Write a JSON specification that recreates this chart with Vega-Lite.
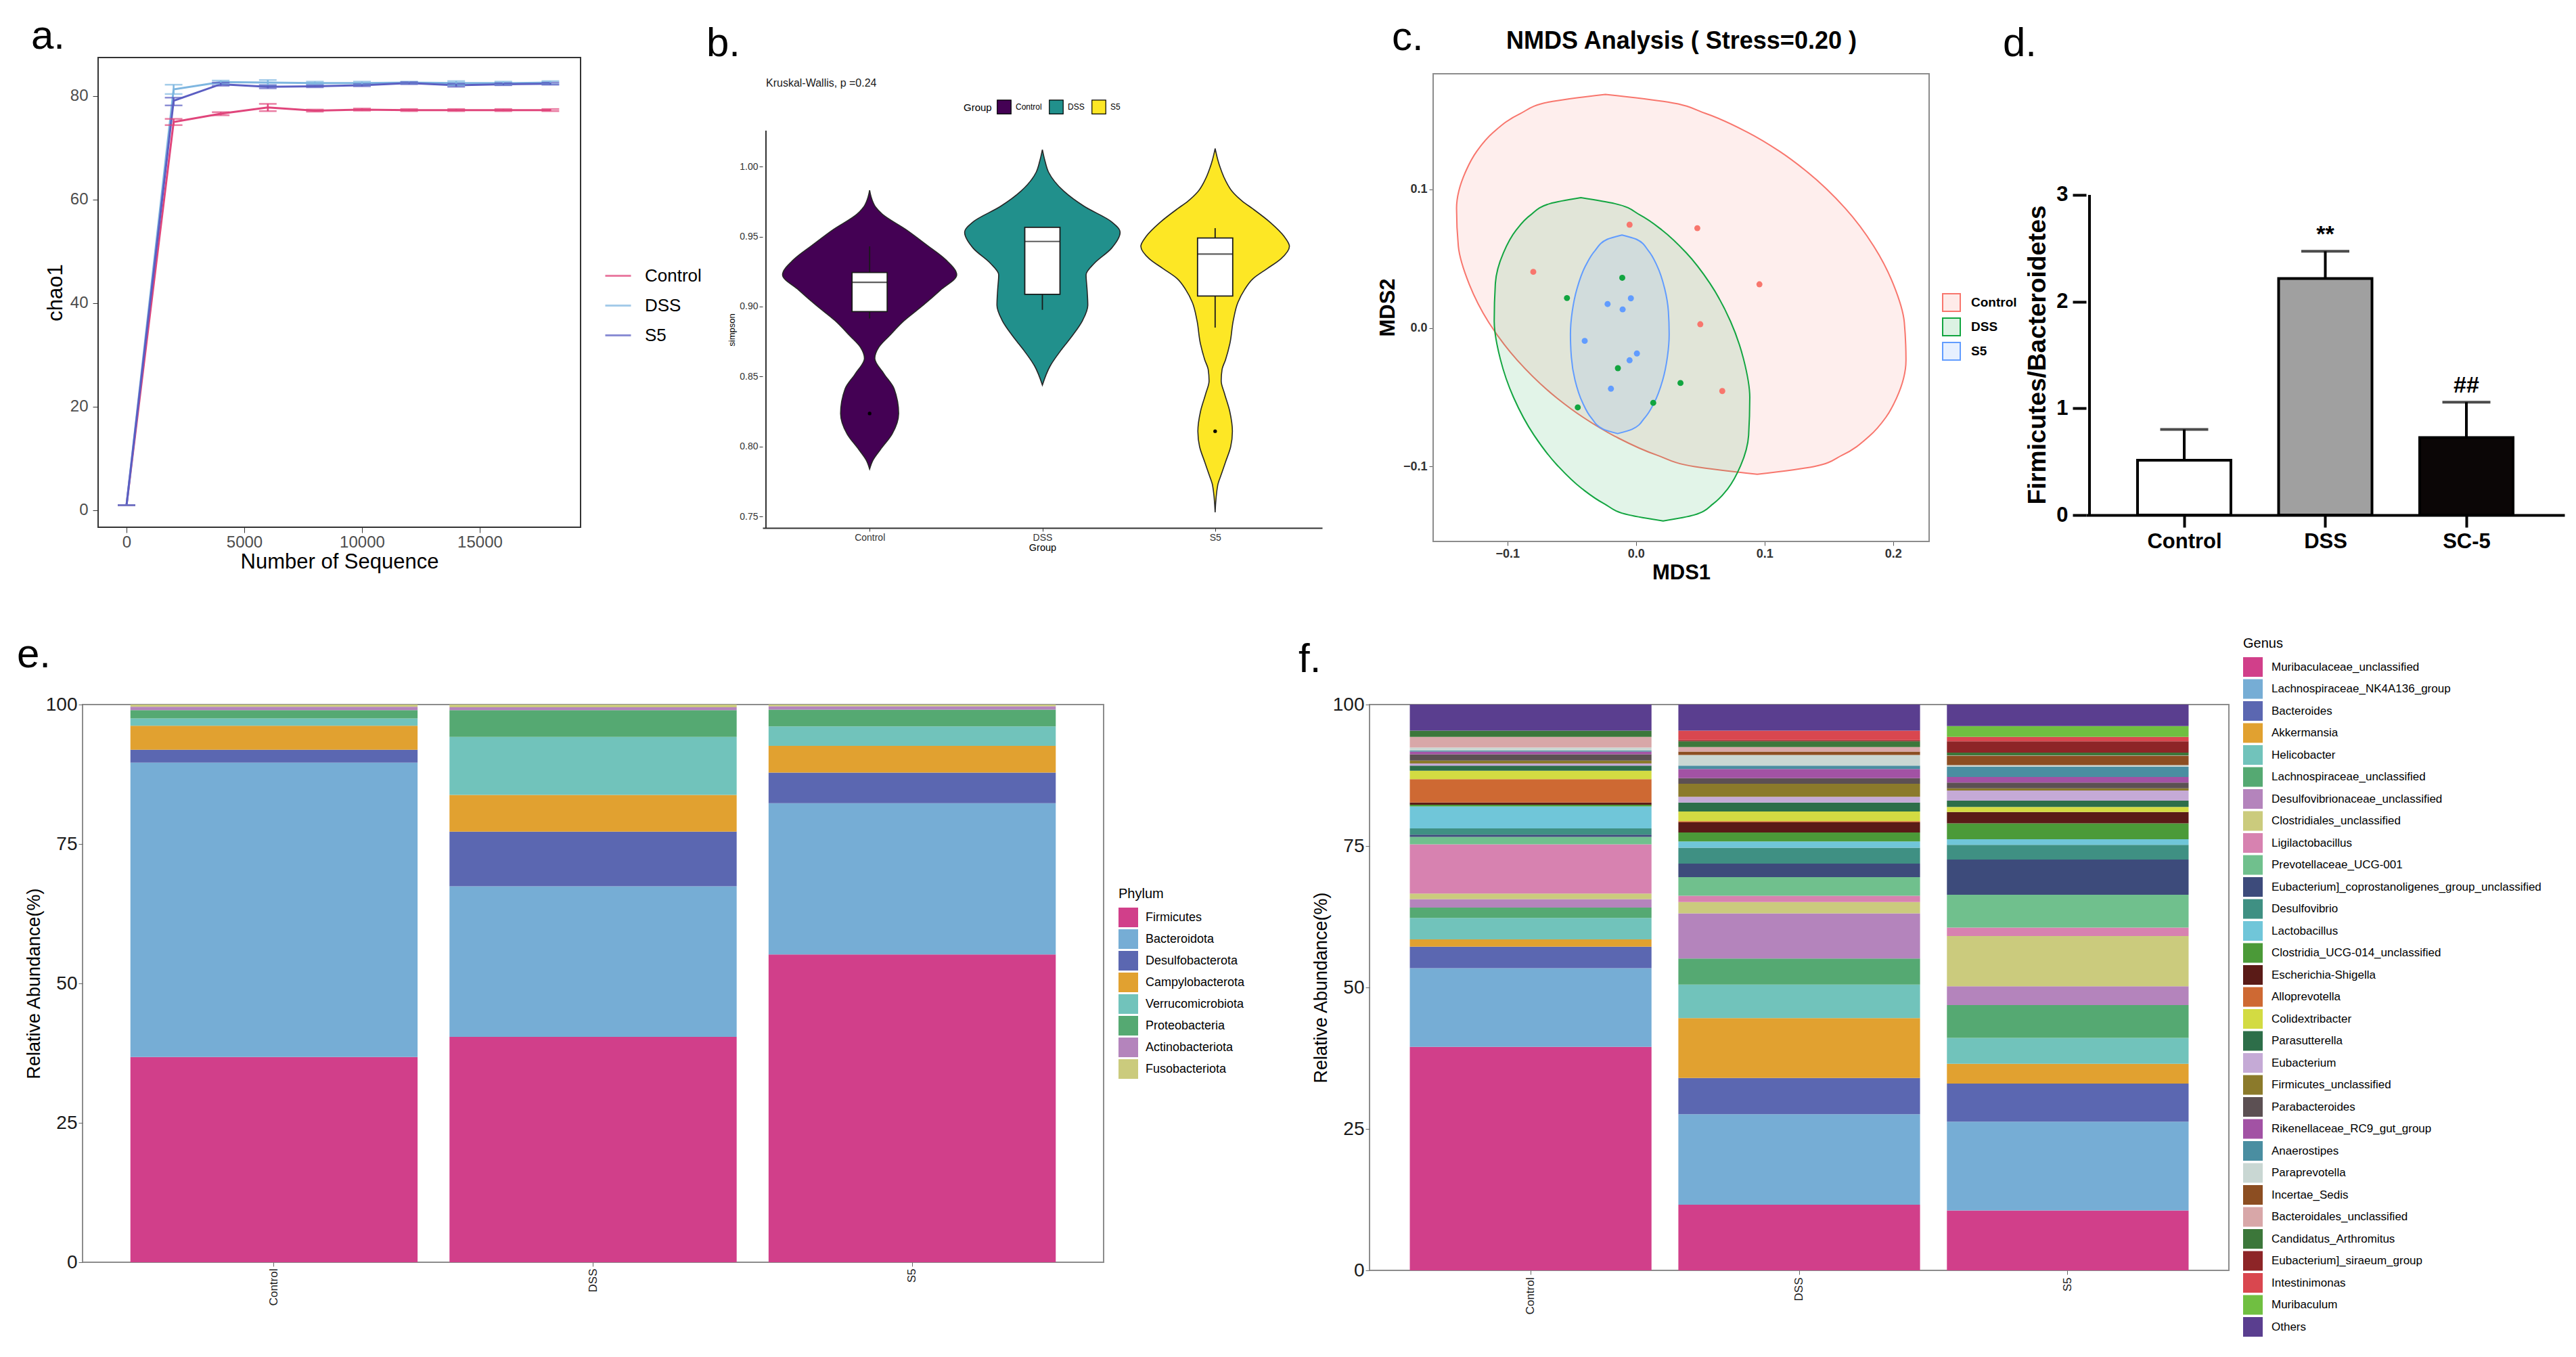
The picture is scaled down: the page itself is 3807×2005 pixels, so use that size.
{
"$schema": "https://vega.github.io/schema/vega-lite/v6.json",
"background": "white",
"padding": {"left": 24, "top": 23, "right": 4, "bottom": 4},
"spacing": 76,
"resolve": {"scale": {"color": "independent", "fill": "independent", "stroke": "independent", "x": "independent", "y": "independent"}, "legend": {"color": "independent", "fill": "independent", "stroke": "independent"}},
"config": {
  "font": "Liberation Sans",
  "view": {"stroke": null},
  "axis": {"grid": false, "labelColor": "#333333", "titleColor": "#000000", "tickColor": "#333333", "domainColor": "#333333", "titleFontWeight": "normal", "labelFlush": false, "labelOverlap": false},
  "legend": {"titleFontWeight": "normal", "labelColor": "#000000", "titleColor": "#000000", "symbolLimit": 40},
  "title": {"fontWeight": "normal", "fontSize": 60, "anchor": "start", "frame": "group", "color": "#000000"}
},
"vconcat": [
{"bounds": "flush", "spacing": 0,
 "resolve": {"scale": {"color": "independent", "fill": "independent", "stroke": "independent", "x": "independent", "y": "independent"}, "legend": {"color": "independent", "fill": "independent", "stroke": "independent"}},
 "hconcat": [
  {"width": 23, "height": 1, "data": {"values": []}, "mark": "point"},
  {
    "width": 713, "height": 694,
    "title": {"text": "a.", "dx": -99, "offset": 0},
    "view": {"stroke": "#333333", "strokeWidth": 2},
    "data": {"values": [
      {"g":"Control","n":0,"v":1,"lo":1,"hi":1},
      {"g":"Control","n":2000,"v":75.0,"lo":74.4,"hi":75.6},
      {"g":"Control","n":4000,"v":76.6,"lo":76.3,"hi":76.9},
      {"g":"Control","n":6000,"v":77.8,"lo":77.1,"hi":78.5},
      {"g":"Control","n":8000,"v":77.2,"lo":77.0,"hi":77.4},
      {"g":"Control","n":10000,"v":77.4,"lo":77.2,"hi":77.6},
      {"g":"Control","n":12000,"v":77.3,"lo":77.1,"hi":77.5},
      {"g":"Control","n":14000,"v":77.3,"lo":77.1,"hi":77.5},
      {"g":"Control","n":16000,"v":77.3,"lo":77.1,"hi":77.5},
      {"g":"Control","n":18000,"v":77.3,"lo":77.1,"hi":77.5},
      {"g":"DSS","n":0,"v":1,"lo":1,"hi":1},
      {"g":"DSS","n":2000,"v":81.3,"lo":80.4,"hi":82.2},
      {"g":"DSS","n":4000,"v":82.7,"lo":82.4,"hi":83.0},
      {"g":"DSS","n":6000,"v":82.6,"lo":82.1,"hi":83.1},
      {"g":"DSS","n":8000,"v":82.5,"lo":82.2,"hi":82.8},
      {"g":"DSS","n":10000,"v":82.5,"lo":82.2,"hi":82.8},
      {"g":"DSS","n":12000,"v":82.6,"lo":82.4,"hi":82.8},
      {"g":"DSS","n":14000,"v":82.5,"lo":82.1,"hi":82.9},
      {"g":"DSS","n":16000,"v":82.5,"lo":82.2,"hi":82.8},
      {"g":"DSS","n":18000,"v":82.6,"lo":82.3,"hi":82.9},
      {"g":"S5","n":0,"v":1,"lo":1,"hi":1},
      {"g":"S5","n":2000,"v":79.1,"lo":78.2,"hi":79.7},
      {"g":"S5","n":4000,"v":82.3,"lo":82.0,"hi":82.6},
      {"g":"S5","n":6000,"v":81.8,"lo":81.5,"hi":82.1},
      {"g":"S5","n":8000,"v":81.9,"lo":81.7,"hi":82.1},
      {"g":"S5","n":10000,"v":82.1,"lo":81.9,"hi":82.3},
      {"g":"S5","n":12000,"v":82.5,"lo":82.3,"hi":82.7},
      {"g":"S5","n":14000,"v":82.1,"lo":81.8,"hi":82.4},
      {"g":"S5","n":16000,"v":82.3,"lo":82.1,"hi":82.5},
      {"g":"S5","n":18000,"v":82.4,"lo":82.2,"hi":82.6}
    ]},
    "layer": [
      {"mark": {"type": "line", "strokeWidth": 3},
       "encoding": {
         "x": {"field": "n", "type": "quantitative", "title": "Number of Sequence",
               "scale": {"domain": [-1207, 19282], "nice": false, "zero": false},
               "axis": {"values": [0, 5000, 10000, 15000], "format": "d", "labelFontSize": 24, "titleFontSize": 31, "tickSize": 8, "labelPadding": 2, "titlePadding": 2, "domain": false, "labelColor": "#4d4d4d"}},
         "y": {"field": "v", "type": "quantitative", "title": "chao1",
               "scale": {"domain": [-3.27, 87.45], "nice": false, "zero": false},
               "axis": {"values": [0, 20, 40, 60, 80], "labelFontSize": 24, "titleFontSize": 31, "tickSize": 8, "labelPadding": 7, "titlePadding": 5, "domain": false, "labelColor": "#4d4d4d"}},
         "color": {"field": "g", "type": "nominal",
               "scale": {"domain": ["Control", "DSS", "S5"], "range": ["#E0457B", "#7EB6E0", "#5B5EC2"]},
               "legend": {"orient": "none", "legendX": 748, "legendY": 302, "title": null, "symbolType": "stroke", "symbolStrokeWidth": 3, "symbolSize": 1444, "labelFontSize": 26, "labelOffset": 19, "rowPadding": 10}}
       }},
      {"mark": {"type": "errorbar", "ticks": {"size": 26}, "thickness": 2.5},
       "encoding": {
         "x": {"field": "n", "type": "quantitative", "title": "Number of Sequence"},
         "y": {"field": "lo", "type": "quantitative", "title": "chao1"},
         "y2": {"field": "hi"},
         "color": {"field": "g", "type": "nominal"}
       }}
    ]
  },
  {"width": 269, "height": 1, "data": {"values": []}, "mark": "point"},
  {
    "width": 827, "height": 695,
    "title": {"text": "b.", "dx": -83, "offset": -11},
    "layer": [
      {"data": {"values": [
        {"grp":"Control","s":0.983,"lo":1,"hi":1},
        {"grp":"Control","s":0.977,"lo":0.988,"hi":1.012},
        {"grp":"Control","s":0.971,"lo":0.965,"hi":1.035},
        {"grp":"Control","s":0.966,"lo":0.927,"hi":1.073},
        {"grp":"Control","s":0.955,"lo":0.79,"hi":1.21},
        {"grp":"Control","s":0.944,"lo":0.67,"hi":1.33},
        {"grp":"Control","s":0.9335,"lo":0.56,"hi":1.44},
        {"grp":"Control","s":0.9227,"lo":0.496,"hi":1.504},
        {"grp":"Control","s":0.9118,"lo":0.59,"hi":1.41},
        {"grp":"Control","s":0.901,"lo":0.69,"hi":1.31},
        {"grp":"Control","s":0.89,"lo":0.8,"hi":1.2},
        {"grp":"Control","s":0.879,"lo":0.887,"hi":1.113},
        {"grp":"Control","s":0.871,"lo":0.947,"hi":1.053},
        {"grp":"Control","s":0.863,"lo":0.97,"hi":1.03},
        {"grp":"Control","s":0.852,"lo":0.917,"hi":1.083},
        {"grp":"Control","s":0.8413,"lo":0.858,"hi":1.142},
        {"grp":"Control","s":0.8237,"lo":0.832,"hi":1.168},
        {"grp":"Control","s":0.809,"lo":0.87,"hi":1.13},
        {"grp":"Control","s":0.798,"lo":0.937,"hi":1.063},
        {"grp":"Control","s":0.79,"lo":0.982,"hi":1.018},
        {"grp":"Control","s":0.784,"lo":1,"hi":1},
        {"grp":"DSS","s":1.012,"lo":2,"hi":2},
        {"grp":"DSS","s":1.004,"lo":1.985,"hi":2.015},
        {"grp":"DSS","s":0.9959,"lo":1.964,"hi":2.036},
        {"grp":"DSS","s":0.9823,"lo":1.875,"hi":2.125},
        {"grp":"DSS","s":0.9715,"lo":1.757,"hi":2.243},
        {"grp":"DSS","s":0.9606,"lo":1.6,"hi":2.4},
        {"grp":"DSS","s":0.953,"lo":1.55,"hi":2.45},
        {"grp":"DSS","s":0.9416,"lo":1.6,"hi":2.4},
        {"grp":"DSS","s":0.9308,"lo":1.7,"hi":2.3},
        {"grp":"DSS","s":0.9227,"lo":1.747,"hi":2.253},
        {"grp":"DSS","s":0.9118,"lo":1.741,"hi":2.259},
        {"grp":"DSS","s":0.901,"lo":1.737,"hi":2.263},
        {"grp":"DSS","s":0.8902,"lo":1.767,"hi":2.233},
        {"grp":"DSS","s":0.8793,"lo":1.826,"hi":2.174},
        {"grp":"DSS","s":0.8684,"lo":1.895,"hi":2.105},
        {"grp":"DSS","s":0.8576,"lo":1.955,"hi":2.045},
        {"grp":"DSS","s":0.844,"lo":2,"hi":2},
        {"grp":"S5","s":1.0128,"lo":3,"hi":3},
        {"grp":"S5","s":1.005,"lo":2.985,"hi":3.015},
        {"grp":"S5","s":0.999,"lo":2.97,"hi":3.03},
        {"grp":"S5","s":0.99,"lo":2.94,"hi":3.06},
        {"grp":"S5","s":0.982,"lo":2.9,"hi":3.1},
        {"grp":"S5","s":0.975,"lo":2.84,"hi":3.16},
        {"grp":"S5","s":0.97,"lo":2.784,"hi":3.216},
        {"grp":"S5","s":0.96,"lo":2.68,"hi":3.32},
        {"grp":"S5","s":0.95,"lo":2.6,"hi":3.4},
        {"grp":"S5","s":0.943,"lo":2.57,"hi":3.43},
        {"grp":"S5","s":0.934,"lo":2.62,"hi":3.38},
        {"grp":"S5","s":0.927,"lo":2.7,"hi":3.3},
        {"grp":"S5","s":0.92,"lo":2.78,"hi":3.22},
        {"grp":"S5","s":0.912,"lo":2.83,"hi":3.17},
        {"grp":"S5","s":0.903,"lo":2.868,"hi":3.132},
        {"grp":"S5","s":0.89,"lo":2.895,"hi":3.105},
        {"grp":"S5","s":0.874,"lo":2.914,"hi":3.086},
        {"grp":"S5","s":0.862,"lo":2.94,"hi":3.06},
        {"grp":"S5","s":0.855,"lo":2.96,"hi":3.04},
        {"grp":"S5","s":0.847,"lo":2.965,"hi":3.035},
        {"grp":"S5","s":0.838,"lo":2.946,"hi":3.054},
        {"grp":"S5","s":0.825,"lo":2.915,"hi":3.085},
        {"grp":"S5","s":0.811,"lo":2.9,"hi":3.1},
        {"grp":"S5","s":0.8,"lo":2.91,"hi":3.09},
        {"grp":"S5","s":0.789,"lo":2.94,"hi":3.06},
        {"grp":"S5","s":0.78,"lo":2.965,"hi":3.035},
        {"grp":"S5","s":0.7725,"lo":2.985,"hi":3.015},
        {"grp":"S5","s":0.7531,"lo":3,"hi":3}
       ]},
       "mark": {"type": "area", "orient": "horizontal", "interpolate": "monotone", "stroke": "#262626", "strokeWidth": 1.6, "opacity": 1},
       "encoding": {
         "y": {"field": "s", "type": "quantitative", "title": "simpson",
               "scale": {"domain": [0.742, 1.0778], "nice": false, "zero": false},
               "axis": {"values": [0.75, 0.8, 0.85, 0.9, 0.95, 1.0], "format": ".2f", "labelFontSize": 14, "titleFontSize": 13, "tickSize": 5, "labelPadding": 2, "titlePadding": 4, "domain": false, "labelColor": "#333333", "titleY": 402}},
         "x": {"field": "lo", "type": "quantitative", "title": "Group",
               "scale": {"domain": [0.4, 3.6], "nice": false, "zero": false},
               "axis": {"values": [1, 2, 3], "labelExpr": "datum.value == 1 ? 'Control' : datum.value == 2 ? 'DSS' : 'S5'", "labelFontSize": 14, "titleFontSize": 14.5, "tickSize": 5, "labelPadding": 2, "titlePadding": 1, "domainWidth": 2}},
         "x2": {"field": "hi"},
         "color": {"field": "grp", "type": "nominal",
               "scale": {"domain": ["Control", "DSS", "S5"], "range": ["#440154", "#21908C", "#FDE725"]},
               "legend": {"orient": "none", "legendX": 297, "legendY": 62, "direction": "horizontal", "title": "Group", "titleOrient": "left", "titleFontSize": 15, "titlePadding": 7, "labelFontSize": 12, "symbolType": "square", "symbolSize": 420, "symbolStrokeColor": "#000000", "symbolStrokeWidth": 1.2, "symbolOpacity": 1, "labelOffset": 6, "columnPadding": 8}}
       }},
      {"data": {"values": [{}]},
       "mark": {"type": "rule", "color": "#333333", "strokeWidth": 2},
       "encoding": {
         "x": {"datum": 0.4, "type": "quantitative", "title": "Group"},
         "y": {"datum": 0.742, "type": "quantitative", "title": "simpson"},
         "y2": {"datum": 1.0256}
       }},
      {"data": {"values": [
        {"grp":"Control","g":1,"wlo":0.8915,"whi":0.943},
        {"grp":"DSS","g":2,"wlo":0.8977,"whi":0.9566},
        {"grp":"S5","g":3,"wlo":0.885,"whi":0.956}
       ]},
       "mark": {"type": "rule", "color": "#1a1a1a", "strokeWidth": 1.8},
       "encoding": {
         "x": {"field": "g", "type": "quantitative", "title": "Group"},
         "y": {"field": "wlo", "type": "quantitative", "title": "simpson"},
         "y2": {"field": "whi"}
       }},
      {"data": {"values": [
        {"grp":"Control","g":1,"q1":0.8964,"q3":0.9243},
        {"grp":"DSS","g":2,"q1":0.9088,"q3":0.9566},
        {"grp":"S5","g":3,"q1":0.9075,"q3":0.949}
       ]},
       "mark": {"type": "bar", "orient": "vertical", "size": 52, "fill": "#ffffff", "stroke": "#1a1a1a", "strokeWidth": 1.8},
       "encoding": {
         "x": {"field": "g", "type": "quantitative", "title": "Group"},
         "y": {"field": "q1", "type": "quantitative", "title": "simpson"},
         "y2": {"field": "q3"}
       }},
      {"data": {"values": [
        {"grp":"Control","g":1,"med":0.9173},
        {"grp":"DSS","g":2,"med":0.9465},
        {"grp":"S5","g":3,"med":0.9375}
       ]},
       "mark": {"type": "tick", "orient": "horizontal", "size": 52, "thickness": 2.2, "color": "#1a1a1a"},
       "encoding": {
         "x": {"field": "g", "type": "quantitative", "title": "Group"},
         "y": {"field": "med", "type": "quantitative", "title": "simpson"}
       }},
      {"data": {"values": [
        {"grp":"Control","g":1,"s":0.8237},
        {"grp":"S5","g":3,"s":0.811}
       ]},
       "mark": {"type": "point", "filled": true, "size": 28, "color": "#000000", "opacity": 1},
       "encoding": {
         "x": {"field": "g", "type": "quantitative", "title": "Group"},
         "y": {"field": "s", "type": "quantitative", "title": "simpson"}
       }},
      {"data": {"values": [{"label": "Kruskal-Wallis, p =0.24"}]},
       "mark": {"type": "text", "align": "left", "baseline": "middle", "fontSize": 16, "color": "#1a1a1a"},
       "encoding": {
         "x": {"datum": 0.4, "type": "quantitative", "title": "Group"},
         "y": {"datum": 1.0594, "type": "quantitative", "title": "simpson"},
         "text": {"field": "label", "type": "nominal"}
       }}
    ]
  },
  {"width": 164, "height": 1, "data": {"values": []}, "mark": "point"},
  {
    "width": 733, "height": 715,
    "title": {"text": "c.", "dx": -61, "offset": -45},
    "resolve": {"axis": {"x": "independent"}},
    "layer": [
      {"data": {"values": [
        {"grp":"Control","m2":0.1685,"l":-0.0238,"r":-0.0238},
        {"grp":"Control","m2":0.163,"l":-0.0677,"r":0.0247},
        {"grp":"Control","m2":0.1548,"l":-0.0898,"r":0.054},
        {"grp":"Control","m2":0.1411,"l":-0.111,"r":0.0869},
        {"grp":"Control","m2":0.1274,"l":-0.1239,"r":0.1117},
        {"grp":"Control","m2":0.1137,"l":-0.1321,"r":0.1317},
        {"grp":"Control","m2":0.0863,"l":-0.1396,"r":0.1628},
        {"grp":"Control","m2":0.0589,"l":-0.1382,"r":0.185},
        {"grp":"Control","m2":0.0315,"l":-0.1297,"r":0.2002},
        {"grp":"Control","m2":0.0041,"l":-0.1146,"r":0.2087},
        {"grp":"Control","m2":-0.0233,"l":-0.0923,"r":0.21},
        {"grp":"Control","m2":-0.0507,"l":-0.0613,"r":0.2026},
        {"grp":"Control","m2":-0.0644,"l":-0.0412,"r":0.1944},
        {"grp":"Control","m2":-0.0781,"l":-0.0165,"r":0.1814},
        {"grp":"Control","m2":-0.0918,"l":0.0165,"r":0.1603},
        {"grp":"Control","m2":-0.1,"l":0.0458,"r":0.1381},
        {"grp":"Control","m2":-0.1055,"l":0.0943,"r":0.0943},
        {"grp":"DSS","m2":0.094,"l":-0.0429,"r":-0.0429},
        {"grp":"DSS","m2":0.0897,"l":-0.067,"r":-0.0164},
        {"grp":"DSS","m2":0.0815,"l":-0.082,"r":0.0031},
        {"grp":"DSS","m2":0.0705,"l":-0.0933,"r":0.0204},
        {"grp":"DSS","m2":0.0541,"l":-0.1032,"r":0.0392},
        {"grp":"DSS","m2":0.0322,"l":-0.1094,"r":0.0575},
        {"grp":"DSS","m2":0.0048,"l":-0.1103,"r":0.0735},
        {"grp":"DSS","m2":-0.0226,"l":-0.1055,"r":0.0837},
        {"grp":"DSS","m2":-0.05,"l":-0.0953,"r":0.0885},
        {"grp":"DSS","m2":-0.0774,"l":-0.0793,"r":0.0876},
        {"grp":"DSS","m2":-0.0993,"l":-0.061,"r":0.0814},
        {"grp":"DSS","m2":-0.1158,"l":-0.0422,"r":0.0715},
        {"grp":"DSS","m2":-0.1267,"l":-0.0249,"r":0.0602},
        {"grp":"DSS","m2":-0.1349,"l":-0.0054,"r":0.0452},
        {"grp":"DSS","m2":-0.1392,"l":0.0211,"r":0.0211},
        {"grp":"S5","m2":0.0671,"l":-0.0109,"r":-0.0109},
        {"grp":"S5","m2":0.064,"l":-0.0223,"r":0.0003},
        {"grp":"S5","m2":0.0558,"l":-0.0319,"r":0.0096},
        {"grp":"S5","m2":0.0448,"l":-0.0393,"r":0.0164},
        {"grp":"S5","m2":0.0284,"l":-0.0459,"r":0.0223},
        {"grp":"S5","m2":0.0119,"l":-0.0496,"r":0.0252},
        {"grp":"S5","m2":-0.0045,"l":-0.051,"r":0.0258},
        {"grp":"S5","m2":-0.021,"l":-0.0503,"r":0.0244},
        {"grp":"S5","m2":-0.0374,"l":-0.0475,"r":0.0208},
        {"grp":"S5","m2":-0.0538,"l":-0.0416,"r":0.0142},
        {"grp":"S5","m2":-0.0648,"l":-0.0348,"r":0.0068},
        {"grp":"S5","m2":-0.073,"l":-0.0255,"r":-0.0029},
        {"grp":"S5","m2":-0.0762,"l":-0.0143,"r":-0.0143}
       ]},
       "mark": {"type": "area", "orient": "horizontal", "interpolate": "monotone", "fillOpacity": 0.12, "strokeOpacity": 1, "strokeWidth": 2},
       "encoding": {
         "y": {"field": "m2", "type": "quantitative", "title": "MDS2",
               "scale": {"domain": [-0.154, 0.1951], "nice": false, "zero": false},
               "axis": {"values": [-0.1, 0, 0.1], "format": ".1f", "labelFontSize": 18, "labelFontWeight": "bold", "titleFontSize": 31, "titleFontWeight": "bold", "tickSize": 6, "labelPadding": 3, "titlePadding": 6, "domain": false, "tickColor": "#555555", "titleY": 369}},
         "x": {"field": "l", "type": "quantitative", "title": "MDS1",
               "scale": {"domain": [-0.1578, 0.228], "nice": false, "zero": false},
               "axis": {"orient": "bottom", "values": [-0.1, 0, 0.1, 0.2], "format": ".1f", "labelFontSize": 18, "labelFontWeight": "bold", "titleFontSize": 31, "titleFontWeight": "bold", "tickSize": 6, "labelPadding": 3, "titlePadding": 4, "domain": false, "tickColor": "#555555"}},
         "x2": {"field": "r"},
         "fill": {"field": "grp", "type": "nominal", "scale": {"domain": ["Control", "DSS", "S5"], "range": ["#F8766D", "#12A540", "#619CFF"]},
                  "legend": {"orient": "none", "legendX": 752, "legendY": 348, "title": null, "labelFontSize": 19, "labelFontWeight": "bold", "symbolType": "square", "symbolSize": 676, "symbolStrokeWidth": 2, "labelOffset": 15, "rowPadding": 2,
                             "encode": {"symbols": {"update": {"fillOpacity": {"value": 0.15}, "strokeOpacity": {"value": 1}}}}}},
         "stroke": {"field": "grp", "type": "nominal", "scale": {"domain": ["Control", "DSS", "S5"], "range": ["#F8766D", "#12A540", "#619CFF"]},
                  "legend": {"orient": "none", "legendX": 752, "legendY": 348, "title": null, "labelFontSize": 19, "labelFontWeight": "bold", "symbolType": "square", "symbolSize": 676, "symbolStrokeWidth": 2, "labelOffset": 15, "rowPadding": 2,
                             "encode": {"symbols": {"update": {"fillOpacity": {"value": 0.15}, "strokeOpacity": {"value": 1}}}}}}
       }},
      {"data": {"values": [{}]},
       "mark": {"type": "rect", "fill": "#ffffff", "fillOpacity": 0, "stroke": "#8c8c8c", "strokeWidth": 2},
       "encoding": {
         "x": {"datum": -0.1578, "type": "quantitative", "axis": null},
         "x2": {"datum": 0.228},
         "y": {"datum": -0.154, "type": "quantitative", "title": "MDS2"},
         "y2": {"datum": 0.1834}
       }},
      {"data": {"values": [
        {"group":"Control","m1":-0.005,"m2":0.0745},
        {"group":"Control","m1":0.0477,"m2":0.072},
        {"group":"Control","m1":-0.0799,"m2":0.0405},
        {"group":"Control","m1":0.096,"m2":0.0315},
        {"group":"Control","m1":0.05,"m2":0.0027},
        {"group":"Control","m1":0.0671,"m2":-0.0455},
        {"group":"DSS","m1":-0.0107,"m2":0.0362},
        {"group":"DSS","m1":-0.0537,"m2":0.0216},
        {"group":"DSS","m1":-0.0141,"m2":-0.029},
        {"group":"DSS","m1":0.0346,"m2":-0.0397},
        {"group":"DSS","m1":0.0134,"m2":-0.054},
        {"group":"DSS","m1":-0.0453,"m2":-0.0573},
        {"group":"S5","m1":-0.004,"m2":0.0214},
        {"group":"S5","m1":-0.0221,"m2":0.0173},
        {"group":"S5","m1":-0.0104,"m2":0.0134},
        {"group":"S5","m1":-0.0399,"m2":-0.0093},
        {"group":"S5","m1":0.0007,"m2":-0.0184},
        {"group":"S5","m1":-0.005,"m2":-0.0233},
        {"group":"S5","m1":-0.0195,"m2":-0.0438}
       ]},
       "mark": {"type": "point", "filled": true, "size": 80, "opacity": 1},
       "encoding": {
         "x": {"field": "m1", "type": "quantitative", "title": "NMDS Analysis ( Stress=0.20 )",
               "axis": {"orient": "top", "labels": false, "ticks": false, "domain": false, "titleFontSize": 36, "titleFontWeight": "bold", "titlePadding": 6}},
         "y": {"field": "m2", "type": "quantitative", "title": "MDS2"},
         "color": {"field": "group", "type": "nominal",
               "scale": {"domain": ["Control", "DSS", "S5"], "range": ["#F8766D", "#12A540", "#619CFF"]},
               "legend": null}
       }}
    ]
  },
  {"width": 232, "height": 1, "data": {"values": []}, "mark": "point"},
  {
    "width": 707, "height": 676,
    "title": {"text": "d.", "dx": -123, "offset": -11},
    "data": {"values": [
      {"grp":"Control","g":1,"v":0.513,"hi":0.802,"sig":""},
      {"grp":"DSS","g":2,"v":2.216,"hi":2.472,"sig":"**"},
      {"grp":"SC-5","g":3,"v":0.727,"hi":1.058,"sig":"##"}
    ]},
    "layer": [
      {"mark": {"type": "bar", "orient": "vertical", "size": 138, "stroke": "#000000", "strokeWidth": 4},
       "encoding": {
         "x": {"field": "g", "type": "quantitative", "title": null,
               "scale": {"domain": [0.3286, 3.6714], "nice": false, "zero": false},
               "axis": {"values": [1, 2, 3], "labelExpr": "datum.value == 1 ? 'Control' : datum.value == 2 ? 'DSS' : 'SC-5'", "labelAngle": 0, "labelFontSize": 31, "labelFontWeight": "bold", "labelColor": "#000000", "tickSize": 18, "tickWidth": 4, "tickColor": "#000000", "domainColor": "#000000", "domainWidth": 4, "labelPadding": 6}},
         "y": {"field": "v", "type": "quantitative", "title": "Firmicutes/Bacteroidetes",
               "scale": {"domain": [0, 4.2875], "nice": false, "zero": false},
               "axis": {"values": [0, 1, 2, 3], "format": "d", "labelFontSize": 31, "labelFontWeight": "bold", "labelColor": "#000000", "tickSize": 20, "tickWidth": 4, "tickColor": "#000000", "domain": false, "labelPadding": 7, "titleFontSize": 37, "titleFontWeight": "bold", "titlePadding": 8, "titleY": 439}},
         "fill": {"field": "grp", "type": "nominal", "scale": {"domain": ["Control", "DSS", "SC-5"], "range": ["#FFFFFF", "#A0A0A0", "#0B0606"]}, "legend": null}
       }},
      {"data": {"values": [{}]},
       "mark": {"type": "rule", "color": "#000000", "strokeWidth": 4},
       "encoding": {
         "x": {"datum": 0.3286, "type": "quantitative", "title": null},
         "y": {"datum": 0, "type": "quantitative", "title": "Firmicutes/Bacteroidetes"},
         "y2": {"datum": 3}
       }},
      {"mark": {"type": "rule", "color": "#000000", "strokeWidth": 4},
       "encoding": {
         "x": {"field": "g", "type": "quantitative", "title": null},
         "y": {"field": "v", "type": "quantitative", "title": "Firmicutes/Bacteroidetes"},
         "y2": {"field": "hi"}
       }},
      {"mark": {"type": "tick", "orient": "horizontal", "size": 71, "thickness": 4, "color": "#000000"},
       "encoding": {
         "x": {"field": "g", "type": "quantitative", "title": null},
         "y": {"field": "hi", "type": "quantitative", "title": "Firmicutes/Bacteroidetes"}
       }},
      {"mark": {"type": "text", "fontSize": 34, "fontWeight": "bold", "baseline": "alphabetic", "dy": -14, "color": "#000000"},
       "encoding": {
         "x": {"field": "g", "type": "quantitative", "title": null},
         "y": {"field": "hi", "type": "quantitative", "title": "Firmicutes/Bacteroidetes"},
         "text": {"field": "sig", "type": "nominal"}
       }}
    ]
  }
 ]},
{"bounds": "flush", "spacing": 0,
 "resolve": {"scale": {"color": "independent", "x": "independent", "y": "independent"}, "legend": {"color": "independent"}},
 "hconcat": [
  {
    "width": 1509, "height": 824,
    "title": {"text": "e.", "dx": -97, "offset": 28},
    "view": {"stroke": "#8c8c8c", "strokeWidth": 2},
    "data": {"values": [
      {"grp":"Control","phylum":"Firmicutes","v":36.8,"k":1},
      {"grp":"Control","phylum":"Bacteroidota","v":52.8,"k":2},
      {"grp":"Control","phylum":"Desulfobacterota","v":2.3,"k":3},
      {"grp":"Control","phylum":"Campylobacterota","v":4.3,"k":4},
      {"grp":"Control","phylum":"Verrucomicrobiota","v":1.3,"k":5},
      {"grp":"Control","phylum":"Proteobacteria","v":1.5,"k":6},
      {"grp":"Control","phylum":"Actinobacteriota","v":0.6,"k":7},
      {"grp":"Control","phylum":"Fusobacteriota","v":0.4,"k":8},
      {"grp":"DSS","phylum":"Firmicutes","v":40.4,"k":1},
      {"grp":"DSS","phylum":"Bacteroidota","v":27.0,"k":2},
      {"grp":"DSS","phylum":"Desulfobacterota","v":9.8,"k":3},
      {"grp":"DSS","phylum":"Campylobacterota","v":6.6,"k":4},
      {"grp":"DSS","phylum":"Verrucomicrobiota","v":10.4,"k":5},
      {"grp":"DSS","phylum":"Proteobacteria","v":4.8,"k":6},
      {"grp":"DSS","phylum":"Actinobacteriota","v":0.5,"k":7},
      {"grp":"DSS","phylum":"Fusobacteriota","v":0.5,"k":8},
      {"grp":"S5","phylum":"Firmicutes","v":55.2,"k":1},
      {"grp":"S5","phylum":"Bacteroidota","v":27.1,"k":2},
      {"grp":"S5","phylum":"Desulfobacterota","v":5.5,"k":3},
      {"grp":"S5","phylum":"Campylobacterota","v":4.8,"k":4},
      {"grp":"S5","phylum":"Verrucomicrobiota","v":3.5,"k":5},
      {"grp":"S5","phylum":"Proteobacteria","v":3.0,"k":6},
      {"grp":"S5","phylum":"Actinobacteriota","v":0.6,"k":7},
      {"grp":"S5","phylum":"Fusobacteriota","v":0.3,"k":8}
    ]},
    "mark": {"type": "bar"},
    "encoding": {
      "x": {"field": "grp", "type": "nominal", "title": null,
            "scale": {"domain": ["Control", "DSS", "S5"], "paddingInner": 0.1, "paddingOuter": 0.15},
            "axis": {"labelAngle": -90, "labelFontSize": 17, "labelColor": "#1a1a1a", "tickSize": 6, "labelPadding": 3, "domain": false, "tickColor": "#666666"}},
      "y": {"field": "v", "type": "quantitative", "stack": "zero", "title": "Relative Abundance(%)",
            "scale": {"domain": [0, 100], "nice": false},
            "axis": {"values": [0, 25, 50, 75, 100], "labelFontSize": 28, "labelColor": "#1a1a1a", "tickSize": 6, "labelPadding": 2, "titleFontSize": 27, "titlePadding": 3, "domain": false, "tickColor": "#666666"}},
      "color": {"field": "phylum", "type": "nominal",
            "scale": {"domain": ["Firmicutes", "Bacteroidota", "Desulfobacterota", "Campylobacterota", "Verrucomicrobiota", "Proteobacteria", "Actinobacteriota", "Fusobacteriota"],
                      "range": ["#D13F8A", "#76ADD5", "#5B67B1", "#E1A130", "#71C3BB", "#55A972", "#B484BC", "#CBCB7D"]},
            "legend": {"orient": "none", "legendX": 1531, "legendY": 270, "title": "Phylum", "titleFontSize": 20, "titlePadding": 10, "labelFontSize": 18, "symbolType": "square", "symbolSize": 840, "rowPadding": 3, "labelOffset": 11, "symbolStrokeWidth": 0}},
      "order": {"field": "k", "type": "quantitative"}
    }
  },
  {"width": 393, "height": 1, "data": {"values": []}, "mark": "point"},
  {
    "width": 1270, "height": 836,
    "title": {"text": "f.", "dx": -105, "offset": -65},
    "view": {"stroke": "#8c8c8c", "strokeWidth": 2},
    "data": {"values": [
      {"grp":"Control","genus":"Muribaculaceae_unclassified","v":39.5,"k":1},
      {"grp":"Control","genus":"Lachnospiraceae_NK4A136_group","v":13.9,"k":2},
      {"grp":"Control","genus":"Bacteroides","v":3.8,"k":3},
      {"grp":"Control","genus":"Akkermansia","v":1.3,"k":4},
      {"grp":"Control","genus":"Helicobacter","v":3.8,"k":5},
      {"grp":"Control","genus":"Lachnospiraceae_unclassified","v":1.8,"k":6},
      {"grp":"Control","genus":"Desulfovibrionaceae_unclassified","v":1.5,"k":7},
      {"grp":"Control","genus":"Clostridiales_unclassified","v":1.0,"k":8},
      {"grp":"Control","genus":"Ligilactobacillus","v":8.7,"k":9},
      {"grp":"Control","genus":"Prevotellaceae_UCG-001","v":1.3,"k":10},
      {"grp":"Control","genus":"Eubacterium]_coprostanoligenes_group_unclassified","v":0.4,"k":11},
      {"grp":"Control","genus":"Desulfovibrio","v":1.1,"k":12},
      {"grp":"Control","genus":"Lactobacillus","v":3.9,"k":13},
      {"grp":"Control","genus":"Clostridia_UCG-014_unclassified","v":0.3,"k":14},
      {"grp":"Control","genus":"Escherichia-Shigella","v":0.4,"k":15},
      {"grp":"Control","genus":"Alloprevotella","v":4.1,"k":16},
      {"grp":"Control","genus":"Colidextribacter","v":1.5,"k":17},
      {"grp":"Control","genus":"Parasutterella","v":0.9,"k":18},
      {"grp":"Control","genus":"Eubacterium","v":0.4,"k":19},
      {"grp":"Control","genus":"Firmicutes_unclassified","v":0.5,"k":20},
      {"grp":"Control","genus":"Parabacteroides","v":1.1,"k":21},
      {"grp":"Control","genus":"Rikenellaceae_RC9_gut_group","v":0.5,"k":22},
      {"grp":"Control","genus":"Anaerostipes","v":0.2,"k":23},
      {"grp":"Control","genus":"Paraprevotella","v":0.5,"k":24},
      {"grp":"Control","genus":"Bacteroidales_unclassified","v":1.9,"k":26},
      {"grp":"Control","genus":"Candidatus_Arthromitus","v":1.1,"k":27},
      {"grp":"Control","genus":"Others","v":4.6,"k":31},
      {"grp":"DSS","genus":"Muribaculaceae_unclassified","v":11.6,"k":1},
      {"grp":"DSS","genus":"Lachnospiraceae_NK4A136_group","v":16.0,"k":2},
      {"grp":"DSS","genus":"Bacteroides","v":6.4,"k":3},
      {"grp":"DSS","genus":"Akkermansia","v":10.6,"k":4},
      {"grp":"DSS","genus":"Helicobacter","v":5.9,"k":5},
      {"grp":"DSS","genus":"Lachnospiraceae_unclassified","v":4.6,"k":6},
      {"grp":"DSS","genus":"Desulfovibrionaceae_unclassified","v":8.0,"k":7},
      {"grp":"DSS","genus":"Clostridiales_unclassified","v":2.0,"k":8},
      {"grp":"DSS","genus":"Ligilactobacillus","v":1.1,"k":9},
      {"grp":"DSS","genus":"Prevotellaceae_UCG-001","v":3.3,"k":10},
      {"grp":"DSS","genus":"Eubacterium]_coprostanoligenes_group_unclassified","v":2.4,"k":11},
      {"grp":"DSS","genus":"Desulfovibrio","v":2.8,"k":12},
      {"grp":"DSS","genus":"Lactobacillus","v":1.1,"k":13},
      {"grp":"DSS","genus":"Clostridia_UCG-014_unclassified","v":1.6,"k":14},
      {"grp":"DSS","genus":"Escherichia-Shigella","v":1.8,"k":15},
      {"grp":"DSS","genus":"Alloprevotella","v":0.2,"k":16},
      {"grp":"DSS","genus":"Colidextribacter","v":1.7,"k":17},
      {"grp":"DSS","genus":"Parasutterella","v":1.6,"k":18},
      {"grp":"DSS","genus":"Eubacterium","v":1.0,"k":19},
      {"grp":"DSS","genus":"Firmicutes_unclassified","v":2.3,"k":20},
      {"grp":"DSS","genus":"Parabacteroides","v":1.0,"k":21},
      {"grp":"DSS","genus":"Rikenellaceae_RC9_gut_group","v":1.6,"k":22},
      {"grp":"DSS","genus":"Anaerostipes","v":0.6,"k":23},
      {"grp":"DSS","genus":"Paraprevotella","v":1.9,"k":24},
      {"grp":"DSS","genus":"Incertae_Sedis","v":0.6,"k":25},
      {"grp":"DSS","genus":"Bacteroidales_unclassified","v":0.8,"k":26},
      {"grp":"DSS","genus":"Candidatus_Arthromitus","v":1.0,"k":27},
      {"grp":"DSS","genus":"Eubacterium]_siraeum_group","v":0.2,"k":28},
      {"grp":"DSS","genus":"Intestinimonas","v":1.7,"k":29},
      {"grp":"DSS","genus":"Others","v":4.6,"k":31},
      {"grp":"S5","genus":"Muribaculaceae_unclassified","v":10.6,"k":1},
      {"grp":"S5","genus":"Lachnospiraceae_NK4A136_group","v":15.7,"k":2},
      {"grp":"S5","genus":"Bacteroides","v":6.7,"k":3},
      {"grp":"S5","genus":"Akkermansia","v":3.5,"k":4},
      {"grp":"S5","genus":"Helicobacter","v":4.6,"k":5},
      {"grp":"S5","genus":"Lachnospiraceae_unclassified","v":5.8,"k":6},
      {"grp":"S5","genus":"Desulfovibrionaceae_unclassified","v":3.3,"k":7},
      {"grp":"S5","genus":"Clostridiales_unclassified","v":8.9,"k":8},
      {"grp":"S5","genus":"Ligilactobacillus","v":1.5,"k":9},
      {"grp":"S5","genus":"Prevotellaceae_UCG-001","v":5.8,"k":10},
      {"grp":"S5","genus":"Eubacterium]_coprostanoligenes_group_unclassified","v":6.2,"k":11},
      {"grp":"S5","genus":"Desulfovibrio","v":2.6,"k":12},
      {"grp":"S5","genus":"Lactobacillus","v":1.0,"k":13},
      {"grp":"S5","genus":"Clostridia_UCG-014_unclassified","v":2.8,"k":14},
      {"grp":"S5","genus":"Escherichia-Shigella","v":2.0,"k":15},
      {"grp":"S5","genus":"Colidextribacter","v":0.9,"k":17},
      {"grp":"S5","genus":"Parasutterella","v":1.1,"k":18},
      {"grp":"S5","genus":"Eubacterium","v":1.8,"k":19},
      {"grp":"S5","genus":"Firmicutes_unclassified","v":0.4,"k":20},
      {"grp":"S5","genus":"Parabacteroides","v":1.0,"k":21},
      {"grp":"S5","genus":"Rikenellaceae_RC9_gut_group","v":1.0,"k":22},
      {"grp":"S5","genus":"Anaerostipes","v":1.8,"k":23},
      {"grp":"S5","genus":"Paraprevotella","v":0.3,"k":24},
      {"grp":"S5","genus":"Incertae_Sedis","v":1.6,"k":25},
      {"grp":"S5","genus":"Bacteroidales_unclassified","v":0.1,"k":26},
      {"grp":"S5","genus":"Candidatus_Arthromitus","v":0.5,"k":27},
      {"grp":"S5","genus":"Eubacterium]_siraeum_group","v":2.0,"k":28},
      {"grp":"S5","genus":"Intestinimonas","v":0.8,"k":29},
      {"grp":"S5","genus":"Muribaculum","v":1.9,"k":30},
      {"grp":"S5","genus":"Others","v":3.8,"k":31}
    ]},
    "mark": {"type": "bar"},
    "encoding": {
      "x": {"field": "grp", "type": "nominal", "title": null,
            "scale": {"domain": ["Control", "DSS", "S5"], "paddingInner": 0.1, "paddingOuter": 0.15},
            "axis": {"labelAngle": -90, "labelFontSize": 17, "labelColor": "#1a1a1a", "tickSize": 6, "labelPadding": 4, "domain": false, "tickColor": "#666666"}},
      "y": {"field": "v", "type": "quantitative", "stack": "zero", "title": "Relative Abundance(%)",
            "scale": {"domain": [0, 100], "nice": false},
            "axis": {"values": [0, 25, 50, 75, 100], "labelFontSize": 28, "labelColor": "#1a1a1a", "tickSize": 6, "labelPadding": 2, "titleFontSize": 27, "titlePadding": 3, "domain": false, "tickColor": "#666666"}},
      "color": {"field": "genus", "type": "nominal",
            "scale": {"domain": ["Muribaculaceae_unclassified", "Lachnospiraceae_NK4A136_group", "Bacteroides", "Akkermansia", "Helicobacter", "Lachnospiraceae_unclassified", "Desulfovibrionaceae_unclassified", "Clostridiales_unclassified", "Ligilactobacillus", "Prevotellaceae_UCG-001", "Eubacterium]_coprostanoligenes_group_unclassified", "Desulfovibrio", "Lactobacillus", "Clostridia_UCG-014_unclassified", "Escherichia-Shigella", "Alloprevotella", "Colidextribacter", "Parasutterella", "Eubacterium", "Firmicutes_unclassified", "Parabacteroides", "Rikenellaceae_RC9_gut_group", "Anaerostipes", "Paraprevotella", "Incertae_Sedis", "Bacteroidales_unclassified", "Candidatus_Arthromitus", "Eubacterium]_siraeum_group", "Intestinimonas", "Muribaculum", "Others"],
                      "range": ["#D13F8A", "#76ADD5", "#5B67B1", "#E1A130", "#71C3BB", "#55A972", "#B484BC", "#CBCB7D", "#D782B0", "#70C08D", "#3D4B7B", "#3F9083", "#70C6D9", "#4B9A38", "#5A1B17", "#CE6933", "#D3DB42", "#2D6E49", "#C5AAD6", "#8B7A2B", "#5C5053", "#A252A4", "#4A8EA1", "#C9D7D3", "#8C4E22", "#D8A7A8", "#3C773A", "#8D2527", "#D9474F", "#70BF41", "#5A3E8F"]},
            "legend": {"orient": "none", "legendX": 1291, "legendY": -100, "title": "Genus", "titleFontSize": 20, "titlePadding": 10, "labelFontSize": 17, "symbolType": "square", "symbolSize": 841, "rowPadding": 3.5, "labelOffset": 13, "labelLimit": 800, "symbolLimit": 40, "symbolStrokeWidth": 0}},
      "order": {"field": "k", "type": "quantitative"}
    }
  }
 ]}
]
}
